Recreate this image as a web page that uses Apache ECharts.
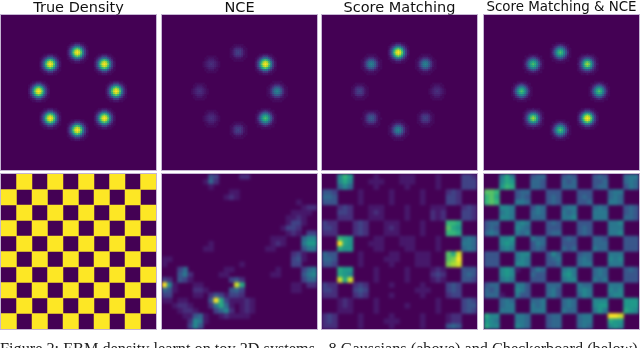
<!DOCTYPE html>
<html>
<head>
<meta charset="utf-8">
<title>EBM density</title>
<script src="https://cdn.jsdelivr.net/npm/echarts@6/dist/echarts.min.js"></script>
<style>
  html, body { margin: 0; padding: 0; background: #fff; }
  #page { position: relative; width: 640px; height: 348px; overflow: hidden; }
  #chart { position: absolute; left: 0; top: 0; width: 640px; height: 348px; }
  .panel { position: absolute; overflow: hidden; background: #440154; box-shadow: 0 0 0 1px rgba(150, 120, 175, 0.55); }
  .panel div.heat { width: 100%; height: 100%; }
</style>
</head>
<body>
<div id="page">
  <div id="chart"></div>
</div>
<script>
const titles = ['True Density', 'NCE', 'Score Matching', 'Score Matching & NCE']
const caption = 'Figure 2: EBM density learnt on toy 2D systems - 8 Gaussians (above) and Checkerboard (below)'

// ring of 8 gaussians: cell of each peak on the 80x80 grid
const ringCols = [39, 53, 59, 53, 39, 25, 19, 25]
const ringRows = [19, 25, 39, 53, 59, 53, 39, 25]

// peak level of each gaussian (0-35), same order as the ring
const truePeaks = [35, 35, 35, 35, 35, 35, 35, 35]
const ncePeaks = [7, 35, 16, 25, 7, 5, 5, 5]
const scorePeaks = [35, 16, 5, 7, 16, 10, 7, 16]
const bothPeaks = [25, 30, 25, 35, 25, 30, 25, 25]

// blob cells, base 36 level per cell
const blobs = {
  35: ['00112221100', '01236663210', '1258ded8521', '148hnqnh841', '26dnuxund62', '26eqxzxqe62', '26dnuxund62', '148hnqnh841', '1258ded8521', '01236663210', '00112221100'],
  30: ['00111211100', '01234443210', '12469a96421', '136chjhc631', '149horoh941', '24ajrurja42', '149horoh941', '136chjhc631', '12469a96421', '01234443210', '00111211100'],
  25: ['00011111000', '01123432110', '01358985310', '125aegea521', '138ekmke831', '149gmpmg941', '138ekmke831', '125aegea521', '01358985310', '01123432110', '00011111000'],
  16: ['00011111000', '00112221100', '01235553210', '11369a96311', '1259ded9521', '125aegea521', '1259ded9521', '11369a96311', '01235553210', '00112221100', '00011111000'],
  10: ['00000000000', '00111111100', '01123332110', '01246664210', '01368986310', '11369a96311', '01368986310', '01246664210', '01123332110', '00111111100', '00000000000'],
  7: ['00000000000', '00011111000', '00112221100', '01134443110', '01246664210', '01246764210', '01246664210', '01134443110', '00112221100', '00011111000', '00000000000'],
  5: ['00000000000', '00011111000', '00112221100', '00123332100', '01234443210', '01234543210', '01234443210', '00123332100', '00112221100', '00011111000', '00000000000']
}

const trueBoard = [
  '0101010101', '1010101010', '0101010101', '1010101010', '0101010101',
  '1010101010', '0101010101', '1010101010', '0101010101', '1010101010'
]

// learnt densities below, hex level (0-15) per cell
const nceBoard = [
  '000000000430000220000000000000',
  '000000001520000000000000000000',
  '000000000100000000000000000000',
  '000000000000011000000000000000',
  '000000000000121000000000000000',
  '000000000000000000000000001000',
  '000000000000000000000000000122',
  '000000000000000000000000011110',
  '000000000000000000000000112100',
  '000000000000000000000000133100',
  '000000000000000000000001332000',
  '000000000000000000000000121033',
  '000000000000000000000111000577',
  '000000000100000000000121000688',
  '000000001100000000001100000466',
  '000000000000000000000000023100',
  '110000000000000000000000034100',
  '100000000000000100000000033000',
  '000350000000110000000010000356',
  '000462000001100000000110000467',
  '320431000000034200000000000355',
  'f7100011000000e900000000011022',
  '541000221000045300000000011000',
  '330000110243133200000000000000',
  '1101100004f9311121000000000000',
  '001221000269510121000000000000',
  '000122100035720121000000000000',
  '000011451001211110000000000000',
  '000002761000000000000000000000',
  '000003740000000000000000000000'
]
const scoreBoard = [
  '0007a8000010000111000010000332',
  '000797000111000111000010000333',
  '000575000010000010000010000333',
  '443000010000010000010000232000',
  '554000010000010000010000332000',
  '444000010000010000010000332000',
  '000232000111000010000111000232',
  '000332000121000010000212000332',
  '000222000111000010000212000332',
  '322000232000111000010000aa9000',
  '332000232000121000010000b98000',
  '222000232000111000010000aa9000',
  '000a98000011000111000010000565',
  '000f98000111000111000010000665',
  '000988000011000011000010000565',
  '544000010000011000111000b9e000',
  '554000010000111000111000bcf000',
  '443000010000010000111000cde000',
  '000988000010000010000121000444',
  '000987000010000010000232000454',
  '000e9e000010000010000121000443',
  '322000232000010000010000343000',
  '332000343000000000111000343000',
  '222000232000010000010000233000',
  '000121000010000000000010000343',
  '000121000010000010000010000344',
  '000111000010000000000010000343',
  '232000010000010000010000122000',
  '232000010000111000010000122000',
  '222000010000010000010000454000'
]
const bothBoard = [
  '000696000455000454000454000566',
  '000798000554000545000445000565',
  '0008a9000554000555000455000465',
  'bba000455000444000444000566000',
  'ab9000454000454000454000565000',
  'aba000665000454000445000665000',
  '000776000465000566000565000454',
  '000676000565000656000666000454',
  '000776000555000667000666000554',
  '455000676000454000444000667000',
  '454000765000444000454000666000',
  '565000656000455000454000667000',
  '000778000655000454000554000444',
  '000787000465000444000555000444',
  '000676000454000545000655000444',
  '444000677000475000455000666000',
  '444000676000456000565000767000',
  '444000776000445000566000666000',
  '000787100465000676000565000454',
  '000787000544000786000565000444',
  '000676000444000677000656000444',
  '455000664000555000655000666000',
  '545000764000564000676000767000',
  '555100644000564000576000677000',
  '000565000556000565000777000888',
  '000566000656000565000788000888',
  '000666000666000655000686000987',
  '977000665000455000566000ffe000',
  '876000665000455000566000988000',
  '977000765000455000565000787000'
]

const viridis = ['#440154', '#482878', '#3e4a89', '#31688e', '#26838f', '#1f9e89', '#35b779', '#6dcd59', '#b4de2c', '#fde725']

const ringCells = (peaks) => {
  const cells = []
  peaks.forEach((peak, i) => {
    blobs[peak].forEach((row, dy) => {
      row.split('').forEach((ch, dx) => {
        const level = parseInt(ch, 36)
        if (level > 0) cells.push([ringCols[i] + dx - 5, ringRows[i] + dy - 5, level / 35])
      })
    })
  })
  return cells
}

const boardCells = (rows, maxLevel) => {
  const cells = []
  rows.forEach((row, y) => {
    row.split('').forEach((ch, x) => {
      const level = parseInt(ch, 16)
      if (level > 0) cells.push([x, y, level / maxLevel])
    })
  })
  return cells
}

const lefts = [1, 162, 322, 484]
const tops = [15, 174]
const panelW = 155
const panelH = 155

const panels = [
  { size: 80, blur: 0.7, cells: ringCells(truePeaks), col: 0, row: 0 },
  { size: 80, blur: 0.7, cells: ringCells(ncePeaks), col: 1, row: 0 },
  { size: 80, blur: 0.7, cells: ringCells(scorePeaks), col: 2, row: 0 },
  { size: 80, blur: 0.7, cells: ringCells(bothPeaks), col: 3, row: 0 },
  { size: 10, blur: 0.6, cells: boardCells(trueBoard, 1), col: 0, row: 1 },
  { size: 30, blur: 1.4, cells: boardCells(nceBoard, 15), col: 1, row: 1 },
  { size: 30, blur: 1.4, cells: boardCells(scoreBoard, 15), col: 2, row: 1 },
  { size: 30, blur: 1.4, cells: boardCells(bothBoard, 15), col: 3, row: 1 }
]

const range = (n) => Array.from({ length: n }, (_, i) => i)

const chart = echarts.init(document.getElementById('chart'))
chart.setOption({
  animation: false,
  backgroundColor: '#fff',
  title: titles.map((text, i) => ({
    text,
    left: lefts[i] + panelW / 2,
    top: 1,
    padding: 0,
    textAlign: 'center',
    textStyle: { fontFamily: 'DejaVu Sans', fontWeight: 'normal', color: '#111', fontSize: i === 3 ? 13.4 : 14.5 }
  })).concat([{
    text: caption,
    left: 0,
    top: 342,
    padding: 0,
    textStyle: { fontFamily: 'Liberation Serif', fontWeight: 'normal', color: '#222', fontSize: 16.25 }
  }])
})

// each panel is its own chart so the soft look stays inside its frame
panels.forEach(p => {
  const frame = document.createElement('div')
  frame.className = 'panel'
  frame.style.left = lefts[p.col] + 'px'
  frame.style.top = tops[p.row] + 'px'
  frame.style.width = panelW + 'px'
  frame.style.height = panelH + 'px'
  const heat = document.createElement('div')
  heat.className = 'heat'
  heat.style.filter = 'blur(' + p.blur + 'px)'
  frame.appendChild(heat)
  document.getElementById('page').appendChild(frame)

  const panelChart = echarts.init(heat)
  panelChart.setOption({
    animation: false,
    backgroundColor: viridis[0],
    visualMap: { show: false, min: 0, max: 1, inRange: { color: viridis } },
    grid: { left: 0, right: 0, top: 0, bottom: 0 },
    xAxis: { type: 'category', show: false, data: range(p.size) },
    yAxis: { type: 'category', show: false, inverse: true, data: range(p.size) },
    series: [{ type: 'heatmap', progressive: 0, data: p.cells }]
  })
})
</script>
</body>
</html>
